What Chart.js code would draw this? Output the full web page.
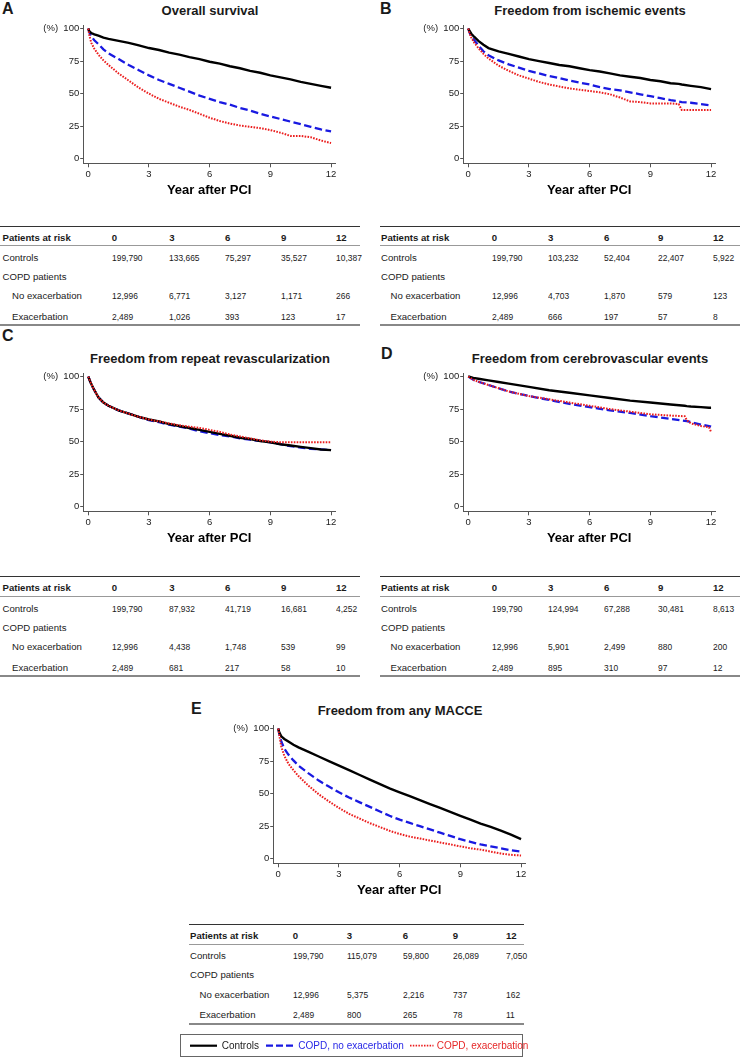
<!DOCTYPE html>
<html>
<head>
<meta charset="utf-8">
<script src="https://cdn.jsdelivr.net/npm/chart.js@4.4.1/dist/chart.umd.min.js"></script>
<style>
  html, body { margin: 0; padding: 0; background: #fff; }
  #page { position: relative; width: 740px; height: 1057px; overflow: hidden;
          font-family: 'Liberation Sans', Arial, sans-serif; color: #1a1a1a; }
  .txt { position: absolute; line-height: 1; white-space: nowrap; }
  canvas { position: absolute; }
  .rule { position: absolute; }
</style>
</head>
<body>
<div id="page"></div>
<script>
// ---- axis ticks ----
const xTicks = [0, 3, 6, 9, 12];
const yTicks = [0, 25, 50, 75, 100];
const riskTimes = ['0', '3', '6', '9', '12'];

// ---- A: overall survival ----
const timeA = [0, 0.05, 0.15, 0.3, 0.5, 0.75, 1, 1.5, 2, 2.5, 3, 3.5, 4, 4.5, 5, 5.5, 6, 6.5, 7, 7.5, 8, 8.5, 9, 9.5, 10, 10.5, 11, 11.5, 12];
const ctrlA  = [100, 98, 96.5, 95.5, 94.5, 93, 92, 90.5, 89, 87, 85, 83.5, 81.5, 80, 78, 76.5, 74.5, 73, 71, 69.5, 67.5, 66, 64, 62.5, 61, 59, 57.5, 56, 54.5];
const noExA  = [100, 97, 94, 91, 88, 84, 81, 76.5, 72, 68, 64, 60.5, 57.5, 54.5, 51.5, 48.5, 46, 43.5, 41.5, 39, 37, 34.5, 32.5, 30.5, 28.5, 26.5, 24.5, 22.5, 21];
const exA    = [100, 95, 89, 84.5, 80, 75.5, 72, 65.5, 60, 54.5, 50, 46, 43, 40, 37.5, 34.5, 31.5, 29, 27, 25.5, 24.5, 23.5, 22, 20, 17.5, 17.5, 16.5, 14, 12];

// ---- B: ischemic events ----
const timeB = [0, 0.05, 0.15, 0.3, 0.5, 0.75, 1, 1.5, 2, 2.5, 3, 3.5, 4, 4.5, 5, 5.5, 6, 6.5, 7, 7.5, 8, 8.5, 9, 9.5, 10, 10.4, 10.55, 11, 11.5, 12];
const ctrlB  = [100, 98.5, 96, 93.5, 90.5, 87.5, 85, 82.5, 80.5, 78.5, 76.5, 75, 73.5, 72, 71, 69.5, 68, 67, 65.5, 64, 63, 62, 60.5, 59.5, 58, 57.5, 57, 56, 55, 53.5];
const noExB  = [100, 97.5, 94, 91, 87, 82.5, 79.5, 75.5, 72.5, 70, 67.5, 65.5, 63.5, 62, 60, 58.5, 57, 55, 53.5, 52.5, 51, 49.5, 48, 46.5, 45, 44, 43.5, 43, 42, 41];
const exB    = [100, 97, 93, 89, 85, 80.5, 77, 71.5, 67.5, 64, 61.5, 59, 57, 55.5, 54, 53, 52, 51, 49.5, 47, 44, 43.5, 42.5, 42.5, 42.5, 42, 37.5, 37.5, 37.5, 37.5];

// ---- C: repeat revascularization ----
const timeC = [0, 0.1, 0.25, 0.5, 0.75, 1, 1.5, 2, 2.5, 3, 3.5, 4, 4.5, 5, 5.5, 6, 6.5, 7, 7.5, 8, 8.5, 9, 9.5, 10, 10.5, 11, 11.5, 12];
const ctrlC  = [100, 96, 91, 84, 80, 77.5, 74, 71.5, 69, 67, 65.5, 63.5, 62, 60.5, 59, 57.5, 56, 54.5, 53, 52, 50.5, 49.5, 48, 47, 46, 45, 44, 43.5];
const noExC  = [100, 96, 91, 84, 80, 77.5, 74, 71.5, 69, 66.5, 65, 63, 61.5, 60, 58, 56.5, 55, 54, 52.5, 51.5, 50.5, 49.5, 48, 46.5, 45.5, 44.5, 44, 43.5];
const exC    = [100, 96, 91, 84, 80, 77.5, 74, 71.5, 69, 67, 65.5, 64, 62.5, 61.5, 60.5, 59, 57.5, 55.5, 54, 52.5, 51, 50, 49.5, 49.5, 49.5, 49.5, 49.5, 49.5];

// ---- D: cerebrovascular events ----
const timeD = [0, 0.25, 0.5, 1, 1.5, 2, 3, 4, 5, 6, 7, 8, 9, 10, 10.7, 10.8, 11, 11.5, 11.9, 12];
const ctrlD  = [100, 99, 98.3, 97, 95.8, 94.5, 92, 89.5, 87.5, 85.5, 83.5, 81.5, 80, 78.5, 77.5, 77.3, 77, 76.5, 76, 76];
const noExD  = [100, 97.5, 96, 93.5, 91, 88.5, 85, 82, 79, 76.5, 74, 72, 69.5, 67.5, 66, 65.8, 65, 63, 62, 61.5];
const exD    = [100, 97.5, 96, 93.5, 91, 88.5, 85, 82.5, 80, 77.5, 75, 73, 71, 70, 69.5, 66.5, 64, 62, 61, 57.5];

// ---- E: any MACCE ----
const timeE = [0, 0.05, 0.15, 0.3, 0.5, 0.75, 1, 1.5, 2, 2.5, 3, 3.5, 4, 4.5, 5, 5.5, 6, 6.5, 7, 7.5, 8, 8.5, 9, 9.5, 10, 10.5, 11, 11.5, 12];
const ctrlE  = [100, 97, 94, 92, 90, 87.5, 85.5, 82, 78.5, 75, 71.5, 68, 64.5, 61, 57.5, 54, 51, 48, 45, 42, 39, 36, 33, 30, 27, 24.5, 21.5, 18.5, 15];
const noExE  = [100, 96, 90, 84.5, 80, 75.5, 71.5, 65.5, 60, 55.5, 51, 47, 43.5, 40, 36.5, 33, 30, 27.5, 25, 22.5, 20, 17.5, 15, 13, 11, 9.5, 8, 6.5, 5.5];
const exE    = [100, 95, 86, 79, 73, 68, 63.5, 56, 49.5, 44, 39, 34.5, 31, 27.5, 24.5, 21.5, 19, 17, 15.5, 14, 12.5, 11, 9.5, 8, 7, 5.5, 4, 3, 2.5];

// ---- patients at risk ----
const riskCtrlA = [199790, 133665, 75297, 35527, 10387];
const riskNoExA = [12996, 6771, 3127, 1171, 266];
const riskExA   = [2489, 1026, 393, 123, 17];
const riskCtrlB = [199790, 103232, 52404, 22407, 5922];
const riskNoExB = [12996, 4703, 1870, 579, 123];
const riskExB   = [2489, 666, 197, 57, 8];
const riskCtrlC = [199790, 87932, 41719, 16681, 4252];
const riskNoExC = [12996, 4438, 1748, 539, 99];
const riskExC   = [2489, 681, 217, 58, 10];
const riskCtrlD = [199790, 124994, 67288, 30481, 8613];
const riskNoExD = [12996, 5901, 2499, 880, 200];
const riskExD   = [2489, 895, 310, 97, 12];
const riskCtrlE = [199790, 115079, 59800, 26089, 7050];
const riskNoExE = [12996, 5375, 2216, 737, 162];
const riskExE   = [2489, 800, 265, 78, 11];

const FONT = "'Liberation Sans', Arial, sans-serif";
const BLUE = 'rgb(25,25,225)';
const RED = 'rgb(235,30,30)';
const page = document.getElementById('page');

// text placed by its baseline
function text(str, x, baseline, size, opts = {}) {
  const d = document.createElement('div');
  d.className = 'txt';
  d.textContent = str;
  d.style.fontSize = size + 'px';
  d.style.top = (baseline - 0.8465 * size) + 'px';
  if (opts.center) {
    d.style.left = (x - 200) + 'px';
    d.style.width = '400px';
    d.style.textAlign = 'center';
  } else {
    d.style.left = x + 'px';
  }
  if (opts.bold) d.style.fontWeight = 'bold';
  if (opts.color) d.style.color = opts.color;
  if (opts.squeeze) { d.style.transform = 'scaleX(' + opts.squeeze + ')'; d.style.transformOrigin = 'left center'; }
  page.appendChild(d);
  return d;
}

function rule(x1, x2, y, w, color) {
  const d = document.createElement('div');
  d.className = 'rule';
  d.style.left = x1 + 'px';
  d.style.width = (x2 - x1) + 'px';
  d.style.top = Math.round(y - w / 2) + 'px';
  d.style.height = w + 'px';
  d.style.background = color;
  page.appendChild(d);
}

function kmChart(left, top, times, ctrl, noEx, ex) {
  const c = document.createElement('canvas');
  c.width = 345; c.height = 200;
  c.style.left = left + 'px';
  c.style.top = top + 'px';
  page.appendChild(c);
  const pts = v => times.map((t, i) => ({ x: t, y: v[i] }));
  const axisGrid = { drawOnChartArea: false, drawTicks: true, color: '#555', lineWidth: 1 };
  new Chart(c, {
    type: 'line',
    data: {
      datasets: [
        { label: 'Controls', data: pts(ctrl), borderColor: '#000', borderWidth: 2.4, order: 1 },
        { label: 'COPD, no exacerbation', data: pts(noEx), borderColor: BLUE, borderWidth: 2.3, borderDash: [7.5, 3.5], order: 2 },
        { label: 'COPD, exacerbation', data: pts(ex), borderColor: RED, borderWidth: 2, borderDash: [1.6, 1.3], order: 0 }
      ]
    },
    options: {
      responsive: false,
      animation: false,
      devicePixelRatio: 1,
      elements: { point: { radius: 0 }, line: { tension: 0, borderCapStyle: 'butt' } },
      layout: { padding: { left: 0, top: 25, right: 9.9, bottom: 0 } },
      plugins: { legend: { display: false }, tooltip: { enabled: false } },
      scales: {
        x: {
          type: 'linear', min: -0.25, max: 12.2,
          afterBuildTicks: a => { a.ticks = xTicks.map(v => ({ value: v })); },
          afterFit: a => { a.height = 36.7; },
          grid: { ...axisGrid, tickLength: 4 },
          border: { display: true, color: '#555', width: 1 },
          ticks: { font: { size: 9.5, family: FONT }, color: '#222', padding: 1, maxRotation: 0, autoSkip: false },
          title: { display: true, text: 'Year after PCI', color: '#000',
                   font: { size: 13, weight: 'bold', family: FONT }, padding: { top: 0, bottom: 2.2 } }
        },
        y: {
          type: 'linear', min: -3.5, max: 102.7,
          afterBuildTicks: a => { a.ticks = yTicks.map(v => ({ value: v })); },
          afterFit: a => { a.width = 83.2; },
          grid: { ...axisGrid, tickLength: 3 },
          border: { display: true, color: '#555', width: 1 },
          ticks: { font: { size: 9.5, family: FONT }, color: '#222', padding: 1, autoSkip: false,
                   callback: v => v === 100 ? '(%)  100' : String(v) }
        }
      }
    }
  });
}

function riskTable(x1, x2, textLeft, cols, top, ctrl, noEx, ex) {
  const fs = 9.6, num = { squeeze: 0.88 }, fmt = n => n.toLocaleString('en-US');
  rule(x1, x2, top, 1, '#333');
  rule(x1, x2, top + 19.7, 1, '#999');
  rule(x1, x2, top + 99.3, 2, '#888');
  text('Patients at risk', textLeft, top + 14.7, fs, { bold: true });
  riskTimes.forEach((t, i) => text(t, cols[i], top + 14.7, fs, { bold: true }));
  text('Controls', textLeft, top + 35, fs);
  ctrl.forEach((n, i) => text(fmt(n), cols[i], top + 35, fs, num));
  text('COPD patients', textLeft, top + 54.2, fs);
  text('No exacerbation', textLeft + 9.5, top + 73.4, fs);
  noEx.forEach((n, i) => text(fmt(n), cols[i], top + 73.4, fs, num));
  text('Exacerbation', textLeft + 9.5, top + 94, fs);
  ex.forEach((n, i) => text(fmt(n), cols[i], top + 94, fs, num));
}

// ---- panel letters and titles ----
text('A', 2, 15, 16, { bold: true });
text('Overall survival', 210, 15, 13, { bold: true, center: true });
text('B', 380, 15, 16, { bold: true });
text('Freedom from ischemic events', 590, 15, 13, { bold: true, center: true });
text('C', 2, 342, 16, { bold: true });
text('Freedom from repeat revascularization', 210, 363, 13, { bold: true, center: true });
text('D', 381, 360, 16, { bold: true });
text('Freedom from cerebrovascular events', 590, 363, 13, { bold: true, center: true });
text('E', 191, 714.3, 16, { bold: true });
text('Freedom from any MACCE', 400, 715, 13, { bold: true, center: true });

// ---- charts ----
kmChart(0, 0, timeA, ctrlA, noExA, exA);
kmChart(380, 0, timeB, ctrlB, noExB, exB);
kmChart(0, 348.4, timeC, ctrlC, noExC, exC);
kmChart(380, 348.4, timeD, ctrlD, noExD, exD);
kmChart(190, 700, timeE, ctrlE, noExE, exE);

// ---- risk tables ----
const colsL = [111.7, 169.3, 225, 281, 336];
const colsR = [491.7, 548, 604, 658, 713];
const colsE = [292.7, 346.7, 402.7, 452.7, 506];
riskTable(0, 360, 2.5, colsL, 226, riskCtrlA, riskNoExA, riskExA);
riskTable(380, 740, 381, colsR, 226, riskCtrlB, riskNoExB, riskExB);
riskTable(0, 360, 2.5, colsL, 576.7, riskCtrlC, riskNoExC, riskExC);
riskTable(380, 740, 381, colsR, 576.7, riskCtrlD, riskNoExD, riskExD);
riskTable(189, 524, 190, colsE, 924.3, riskCtrlE, riskNoExE, riskExE);

// ---- legend ----
const box = document.createElement('div');
box.style.cssText = 'position:absolute;left:180px;top:1034px;width:343px;height:23px;box-sizing:border-box;border:1.5px solid #666;';
page.appendChild(box);
const svgNS = 'http://www.w3.org/2000/svg';
const svg = document.createElementNS(svgNS, 'svg');
svg.setAttribute('width', 740); svg.setAttribute('height', 1057);
svg.style.cssText = 'position:absolute;left:0;top:0;pointer-events:none;';
[[190, 217, '#000', 2.2, ''], [266, 294, BLUE, 2.2, '7,3'], [410, 433.5, RED, 1.8, '1.5,1.3']].forEach(s => {
  const l = document.createElementNS(svgNS, 'line');
  l.setAttribute('x1', s[0]); l.setAttribute('x2', s[1]);
  l.setAttribute('y1', 1045.7); l.setAttribute('y2', 1045.7);
  l.setAttribute('stroke', s[2]); l.setAttribute('stroke-width', s[3]);
  if (s[4]) l.setAttribute('stroke-dasharray', s[4]);
  svg.appendChild(l);
});
page.appendChild(svg);
text('Controls', 221.7, 1049.2, 10);
text('COPD, no exacerbation', 298.3, 1049.2, 10, { color: 'rgb(40,40,230)' });
text('COPD, exacerbation', 436.7, 1049.2, 10, { color: 'rgb(230,40,40)' });
</script>
</body>
</html>
